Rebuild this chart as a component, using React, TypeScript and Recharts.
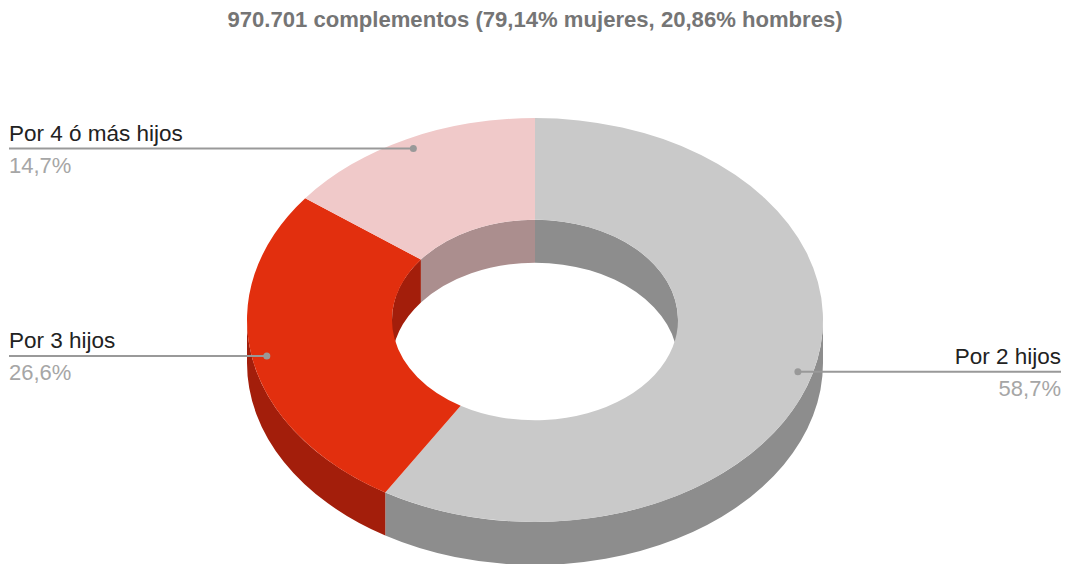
import { PieChart, Pie, Cell } from 'recharts';

const CATEGORIES = ['Por 2 hijos', 'Por 3 hijos', 'Por 4 ó más hijos'];
const SHARES = [58.7, 26.6, 14.7];
const SHARE_LABELS = ['58,7%', '26,6%', '14,7%'];
const TOP_COLORS = ['#c9c9c9', '#e22f0e', '#f0c9c9'];
const WALL_COLORS = ['#8d8d8d', '#a31e0b', '#ab8e8e'];
const TITLE = '970.701 complementos (79,14% mujeres, 20,86% hombres)';

const data = CATEGORIES.map((name, i) => ({ name, value: SHARES[i], label: SHARE_LABELS[i] }));

const WIDTH = 1067;
const HEIGHT = 564;
const CX = 535;
const CY = 320;
const OUTER = 288;
const INNER = 143;
const SQUASH = 202 / 288; // vertical scale of the tilted disc
const DEPTH = 43;
const FONT = '"Liberation Sans", Arial, sans-serif';

const rad = (deg: number) => (deg * Math.PI) / 180;

// point on a tilted ring, angle in recharts degrees
const pt = (cx: number, cy: number, r: number, deg: number) =>
  `${(cx + r * Math.cos(rad(deg))).toFixed(2)} ${(cy - r * SQUASH * Math.sin(rad(deg))).toFixed(2)}`;

const arc = (r: number, cy: number, clockwise: boolean, to: number, cx: number) =>
  `A ${r} ${r * SQUASH} 0 0 ${clockwise ? 1 : 0} ${pt(cx, cy, r, to)}`;

// splits a sweep in steps below 180 degrees so the arc flags stay simple
const sweepPoints = (from: number, to: number) => {
  const n = Math.max(1, Math.ceil(Math.abs(to - from) / 90));
  return Array.from({ length: n + 1 }, (_, i) => from + ((to - from) * i) / n);
};

const arcPath = (r: number, cy: number, from: number, to: number, cx: number) =>
  sweepPoints(from, to)
    .slice(1)
    .map((a) => arc(r, cy, to < from, a, cx))
    .join(' ');

// part of the sweep [end, start] that falls in [lo, hi], checked one full turn either way
const clipSweep = (start: number, end: number, lo: number, hi: number) => {
  for (const k of [-720, -360, 0, 360]) {
    const s = Math.min(start, hi + k);
    const e = Math.max(end, lo + k);
    if (s > e) return [s, e];
  }
  return null;
};

const wallPath = (cx: number, cy: number, r: number, range: number[]) => {
  const [s, e] = range;
  return `M ${pt(cx, cy, r, s)} ${arcPath(r, cy, s, e, cx)} L ${pt(cx, cy + DEPTH, r, e)} ${arcPath(r, cy + DEPTH, e, s, cx)} Z`;
};

const OuterWall = (props: any) => {
  const range = clipSweep(props.startAngle, props.endAngle, -180, 0);
  if (!range) return null;
  return <path d={wallPath(props.cx, props.cy, props.outerRadius, range)} fill={props.fill} stroke="none" />;
};

const InnerWall = (props: any) => {
  const range = clipSweep(props.startAngle, props.endAngle, 0, 180);
  if (!range) return null;
  return <path d={wallPath(props.cx, props.cy, props.innerRadius, range)} fill={props.fill} stroke="none" />;
};

const TopFace = (props: any) => {
  const { cx, cy, innerRadius: ri, outerRadius: ro, startAngle: s, endAngle: e, fill } = props;
  const d = `M ${pt(cx, cy, ro, s)} ${arcPath(ro, cy, s, e, cx)} L ${pt(cx, cy, ri, e)} ${arcPath(ri, cy, e, s, cx)} Z`;
  return <path d={d} fill={fill} stroke="none" />;
};

const renderLabel = (props: any) => {
  const { cx, cy, midAngle, outerRadius, index } = props;
  const r = outerRadius * 0.948;
  const x = cx + r * Math.cos(rad(midAngle));
  const y = cy - r * SQUASH * Math.sin(rad(midAngle));
  const onRight = x > cx;
  const edge = onRight ? 1061 : 9;
  const anchor = onRight ? 'end' : 'start';
  return (
    <g key={index}>
      <line x1={x} y1={y} x2={edge} y2={y} stroke="#999999" strokeWidth={2} />
      <circle cx={x} cy={y} r={3.5} fill="#999999" />
      <text x={edge} y={y - 7.5} textAnchor={anchor} fontFamily={FONT} fontSize={22.5} fill="#222222">
        {data[index].name}
      </text>
      <text x={edge} y={y + 24} textAnchor={anchor} fontFamily={FONT} fontSize={22} fill="#a6a6a6">
        {data[index].label}
      </text>
    </g>
  );
};

const pieProps = {
  data,
  dataKey: 'value',
  nameKey: 'name',
  cx: CX,
  cy: CY,
  innerRadius: INNER,
  outerRadius: OUTER,
  startAngle: 90,
  endAngle: -270,
  paddingAngle: 0,
  stroke: 'none',
  isAnimationActive: false,
};

export default function App() {
  return (
    <div style={{ position: 'absolute', left: 0, top: 0, width: WIDTH, height: HEIGHT, background: '#ffffff' }}>
      <PieChart width={WIDTH} height={HEIGHT} margin={{ top: 0, right: 0, bottom: 0, left: 0 }}>
        <text x={535} y={27} textAnchor="middle" fontFamily={FONT} fontSize={22.1} fontWeight="bold" fill="#757575">
          {TITLE}
        </text>
        <Pie {...pieProps} shape={OuterWall}>
          {data.map((_, i) => (
            <Cell key={i} fill={WALL_COLORS[i]} />
          ))}
        </Pie>
        <Pie {...pieProps} shape={InnerWall}>
          {data.map((_, i) => (
            <Cell key={i} fill={WALL_COLORS[i]} />
          ))}
        </Pie>
        <Pie {...pieProps} shape={TopFace} label={renderLabel} labelLine={false}>
          {data.map((_, i) => (
            <Cell key={i} fill={TOP_COLORS[i]} />
          ))}
        </Pie>
      </PieChart>
    </div>
  );
}
